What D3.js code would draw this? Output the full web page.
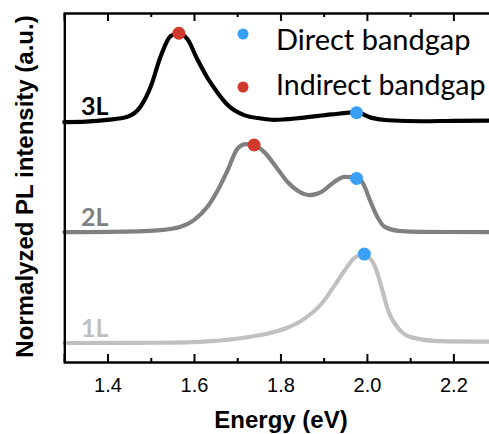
<!DOCTYPE html>
<html>
<head>
<meta charset="utf-8">
<script src="https://cdn.jsdelivr.net/npm/d3@7"></script>
<style>
  html, body { margin: 0; padding: 0; background: #fff; overflow: hidden; }
  svg { display: block; }
</style>
</head>
<body>
<div id="chart"></div>
<script>
// ---- Data ----
const seriesNames = ["1L", "2L", "3L"];
const seriesOffsets = [0, 1.26, 2.52];
const seriesColors = ["#c0c0c0", "#808080", "#000000"];

const energy1L = [1.30,1.523,1.639,1.716,1.778,1.817,1.856,1.895,1.925,1.948,1.972,1.987,1.995,2.018,2.034,2.049,2.073,2.104,2.166,2.30];
const intensity1L = [0,0.003,0.022,0.06,0.116,0.176,0.277,0.446,0.652,0.82,0.97,1.0,0.997,0.876,0.63,0.37,0.165,0.064,0.022,0.015];

const energy2L = [1.30,1.407,1.523,1.569,1.600,1.631,1.655,1.678,1.701,1.720,1.738,1.762,1.793,1.816,1.840,1.867,1.895,1.925,1.948,1.974,1.991,2.007,2.022,2.041,2.073,2.127,2.30];
const intensity2L = [0,0.003,0.023,0.06,0.136,0.288,0.477,0.705,0.951,1.0,0.99,0.912,0.72,0.572,0.469,0.42,0.458,0.572,0.628,0.621,0.553,0.364,0.193,0.06,0.015,0.003,0];

const energy3L = [1.30,1.35,1.40,1.446,1.476,1.50,1.523,1.546,1.565,1.585,1.608,1.631,1.655,1.678,1.716,1.755,1.785,1.848,1.918,1.976,2.011,2.049,2.127,2.20,2.30];
const intensity3L = [-0.01,-0.005,0.015,0.05,0.164,0.394,0.739,0.969,1.0,0.931,0.701,0.494,0.322,0.184,0.069,0.031,0.015,0.038,0.077,0.10,0.038,0.011,0.0,0.005,0.008];

// marker points: series index, energy, normalized intensity
const directSeries = [2, 1, 0];
const directEnergy = [1.976, 1.976, 1.994];
const directIntensity = [0.097, 0.61, 1.01];
const indirectSeries = [2, 1];
const indirectEnergy = [1.565, 1.739];
const indirectIntensity = [1.0, 0.99];

const xTicks = [1.4, 1.6, 1.8, 2.0, 2.2];
const xMinorTicks = [1.3, 1.5, 1.7, 1.9, 2.1, 2.3];
const legendLabels = ["Direct bandgap", "Indirect bandgap"];
const markerColors = ["#3aa0f5", "#d0392c"];

// ---- Layout ----
const W = 489, H = 434;
const margin = { left: 64.3, top: 13, bottom: 72 };
const plotRight = 496.6;

const svg = d3.select("#chart").append("svg").attr("width", W).attr("height", H);

const x = d3.scaleLinear().domain([1.3, 2.3]).range([margin.left, plotRight]);
const y = d3.scaleLinear().domain([-0.216, 3.75]).range([H - margin.bottom, margin.top]);

const curves = [
  { e: energy1L, v: intensity1L },
  { e: energy2L, v: intensity2L },
  { e: energy3L, v: intensity3L }
];

const line = d3.line().curve(d3.curveMonotoneX);

curves.forEach((c, i) => {
  const pts = c.e.map((e, k) => [x(e), y(c.v[k] + seriesOffsets[i])]);
  svg.append("path")
    .attr("d", line(pts))
    .attr("fill", "none")
    .attr("stroke", seriesColors[i])
    .attr("stroke-width", 4.2)
    .attr("stroke-linejoin", "round")
    .attr("stroke-linecap", "round");
});

// series labels
seriesNames.forEach((n, i) => {
  svg.append("text")
    .attr("x", 81)
    .attr("y", y(seriesOffsets[i]) - 6)
    .attr("font-family", "Lato, 'Open Sans', sans-serif")
    .attr("font-weight", 700)
    .attr("font-size", 25)
    .attr("fill", seriesColors[i])
    .text(n);
});

// markers
indirectSeries.forEach((s, k) => {
  svg.append("circle")
    .attr("cx", x(indirectEnergy[k]))
    .attr("cy", y(indirectIntensity[k] + seriesOffsets[s]))
    .attr("r", 6.5)
    .attr("fill", markerColors[1]);
});
directSeries.forEach((s, k) => {
  svg.append("circle")
    .attr("cx", x(directEnergy[k]))
    .attr("cy", y(directIntensity[k] + seriesOffsets[s]))
    .attr("r", 6.5)
    .attr("fill", markerColors[0]);
});

// axes
const axisBottom = d3.axisBottom(x).tickValues(xTicks).tickSize(-8).tickPadding(16)
  .tickFormat(d3.format(".1f"));
const gB = svg.append("g").attr("transform", `translate(0,${H - margin.bottom})`).call(axisBottom);
gB.select(".domain").attr("stroke", "#000").attr("stroke-width", 2.4);
gB.selectAll(".tick line").attr("stroke", "#000").attr("stroke-width", 2);
gB.selectAll(".tick text").attr("font-family", "'Liberation Sans', Arial, sans-serif")
  .attr("font-size", 20).attr("fill", "#000");
const gBm = svg.append("g").attr("transform", `translate(0,${H - margin.bottom})`)
  .call(d3.axisBottom(x).tickValues(xMinorTicks).tickSize(-4).tickFormat(""));
gBm.select(".domain").remove();
gBm.selectAll(".tick line").attr("stroke", "#000").attr("stroke-width", 2);

const gT = svg.append("g").attr("transform", `translate(0,${margin.top})`)
  .call(d3.axisTop(x).tickValues(xTicks).tickSize(-8).tickFormat(""));
gT.select(".domain").attr("stroke", "#000").attr("stroke-width", 2.4);
gT.selectAll(".tick line").attr("stroke", "#000").attr("stroke-width", 2);
const gTm = svg.append("g").attr("transform", `translate(0,${margin.top})`)
  .call(d3.axisTop(x).tickValues(xMinorTicks).tickSize(-4).tickFormat(""));
gTm.select(".domain").remove();
gTm.selectAll(".tick line").attr("stroke", "#000").attr("stroke-width", 2);

const gL = svg.append("g").attr("transform", `translate(${margin.left},0)`)
  .call(d3.axisLeft(y).tickValues([]).tickSize(0));
gL.select(".domain").attr("stroke", "#000").attr("stroke-width", 2.4);

// axis titles
svg.append("text")
  .attr("x", 281).attr("y", 428)
  .attr("text-anchor", "middle")
  .attr("font-family", "'Liberation Sans', Arial, sans-serif")
  .attr("font-weight", 700).attr("font-size", 24)
  .text("Energy (eV)");
svg.append("text")
  .attr("transform", `translate(33,${(13 + 360) / 2}) rotate(-90)`)
  .attr("text-anchor", "middle")
  .attr("font-family", "'Liberation Sans', Arial, sans-serif")
  .attr("font-weight", 700).attr("font-size", 24)
  .text("Normalyzed PL intensity (a.u.)");

// legend
const legendY = [34, 87];
const legendTextY = [50, 95];
const legendSizes = [29, 28.5];
legendLabels.forEach((t, i) => {
  svg.append("circle").attr("cx", 243).attr("cy", legendY[i]).attr("r", 5.5).attr("fill", markerColors[i]);
  svg.append("text")
    .attr("x", 276).attr("y", legendTextY[i])
    .attr("font-family", "Lato, 'Open Sans', sans-serif")
    .attr("font-size", legendSizes[i]).attr("fill", "#000")
    .text(t);
});
</script>
</body>
</html>
